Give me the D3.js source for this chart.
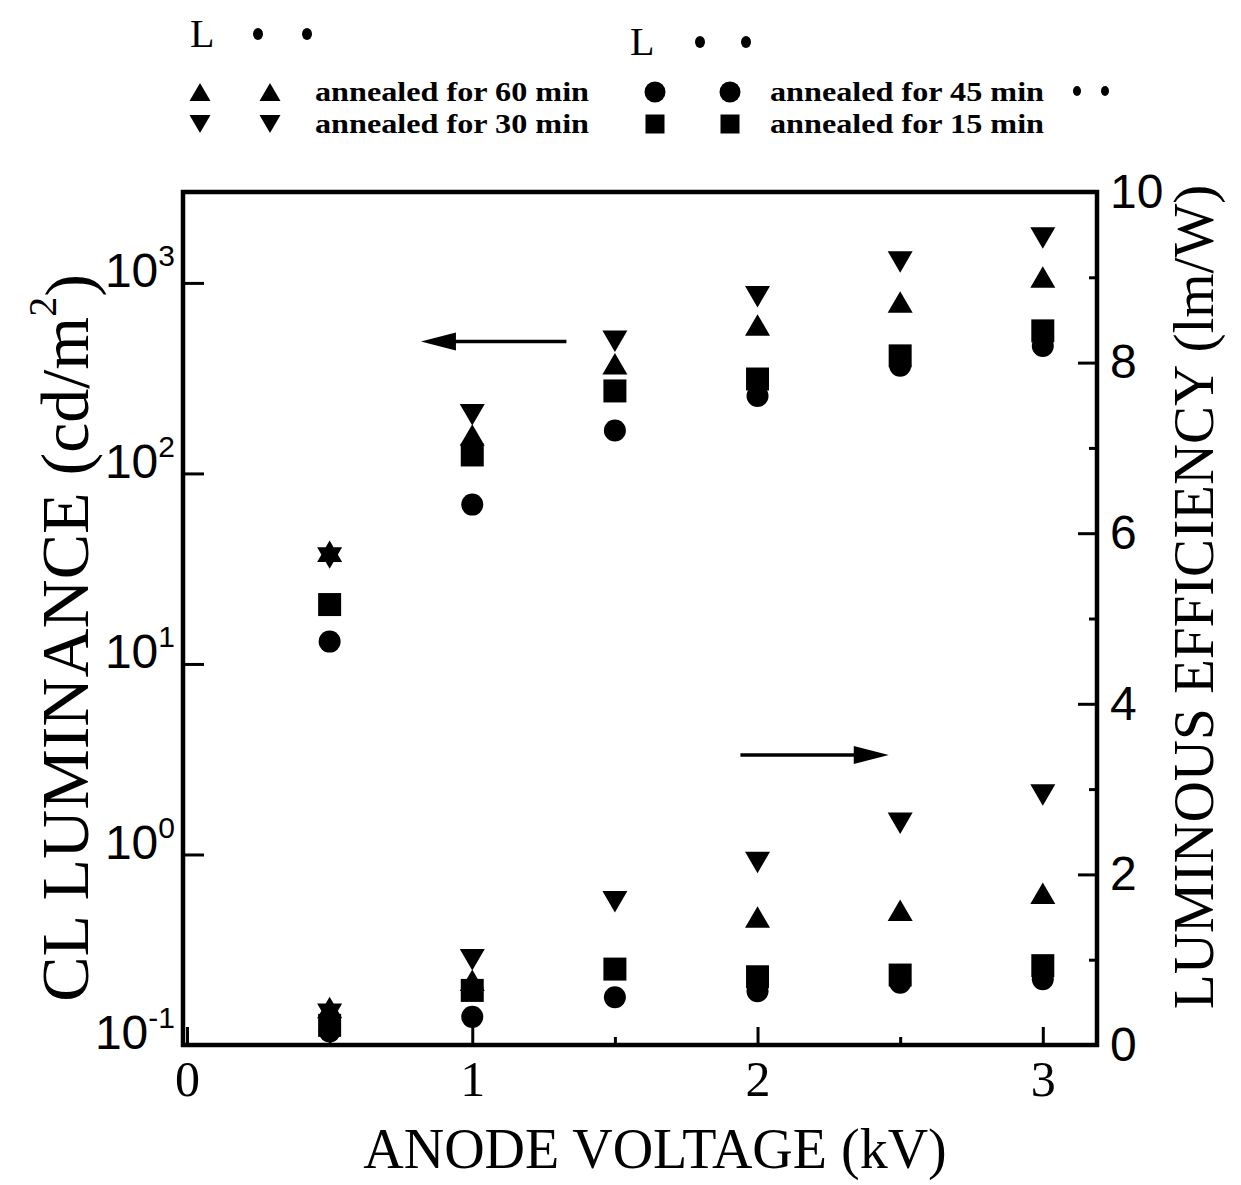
<!DOCTYPE html>
<html>
<head>
<meta charset="utf-8">
<title>CL luminance and luminous efficiency vs anode voltage</title>
<script src="https://d3js.org/d3.v7.min.js"></script>
<style>
  body { margin: 0; background: #fff; }
</style>
</head>
<body>
<div id="chart"></div>
<script>
// anode voltage (kV)
var voltage = [0.5, 1, 1.5, 2, 2.5, 3];

// CL luminance (cd/m2), left log axis
var lum60 = [39, 159, 376, 602, 795, 1075];
var lum30 = [36, 203, 494, 847, 1289, 1722];
var lum45 = [13.1, 68.6, 168, 255, 367, 467];
var lum15 = [20.5, 125, 271, 313, 414, 560];

// luminous efficiency (lm/W), right axis
var eff60 = [0.44, 0.76, null, 1.50, 1.58, 1.78];
var eff30 = [0.36, 1.00, 1.68, 2.14, 2.60, 2.93];
var eff45 = [0.16, 0.33, 0.56, 0.63, 0.73, 0.77];
var eff15 = [0.23, 0.64, 0.89, 0.80, 0.82, 0.93];

var seriesNames = ["annealed for 60 min", "annealed for 30 min", "annealed for 45 min", "annealed for 15 min"];

var xTicks = [0, 1, 2, 3];
var xMinor = [0.5, 1.5, 2.5];
var lumTicks = [0.1, 1, 10, 100, 1000];
var lumExp = ["-1", "0", "1", "2", "3"];
var effMajor = [0, 2, 4, 6, 8, 10];
var effMinor = [1, 3, 5, 7, 9];

// arrows pointing to the axis each group belongs to
var lumArrow = { from: 1.33, to: 0.82, at: 492 };
var effArrow = { from: 1.94, to: 2.46, at: 3.4 };

var serif = "'Liberation Serif', 'Times New Roman', serif";
var sans = "'Liberation Sans', Arial, sans-serif";

var margin = { top: 192, right: 144, bottom: 140, left: 183 };
var width = 1241 - margin.left - margin.right;
var height = 1185 - margin.top - margin.bottom;

var svg = d3.select("#chart").append("svg")
  .attr("width", 1241)
  .attr("height", 1185);

var g = svg.append("g")
  .attr("transform", "translate(" + margin.left + "," + margin.top + ")");

var x = d3.scaleLinear().domain([-0.014, 3.19]).range([0, width]);
var yL = d3.scaleLog().domain([0.1, 3000]).range([height, 0]);
var yR = d3.scaleLinear().domain([0, 10]).range([height, 0]);

// marker shapes, centred on their bounding box, size = width in px
var triUp = { draw: function (ctx, w) { var h = w * 0.86; ctx.moveTo(0, -h / 2); ctx.lineTo(w / 2, h / 2); ctx.lineTo(-w / 2, h / 2); ctx.closePath(); } };
var triDown = { draw: function (ctx, w) { var h = w * 0.86; ctx.moveTo(0, h / 2); ctx.lineTo(w / 2, -h / 2); ctx.lineTo(-w / 2, -h / 2); ctx.closePath(); } };
var square = { draw: function (ctx, w) { ctx.rect(-w / 2, -w / 2, w, w); } };
var circle = { draw: function (ctx, w) { ctx.moveTo(w / 2, 0); ctx.arc(0, 0, w / 2, 0, 2 * Math.PI); } };

var series = [
  { name: seriesNames[0], shape: triUp, size: 25, lum: lum60, eff: eff60 },
  { name: seriesNames[1], shape: triDown, size: 25, lum: lum30, eff: eff30 },
  { name: seriesNames[2], shape: circle, size: 22, lum: lum45, eff: eff45 },
  { name: seriesNames[3], shape: square, size: 23, lum: lum15, eff: eff15 }
];

// bottom axis
g.append("g")
  .attr("class", "x-axis")
  .attr("transform", "translate(0," + height + ")")
  .call(d3.axisBottom(x).tickValues(xTicks).tickSizeInner(-18).tickSizeOuter(0).tickPadding(15).tickFormat(d3.format("d")))
  .call(function (a) {
    a.select(".domain").remove();
    a.selectAll("line").attr("stroke", "#000").attr("stroke-width", 3);
    a.selectAll("text").attr("font-family", serif).attr("font-size", 50).attr("fill", "#000");
  });
g.append("g")
  .attr("transform", "translate(0," + height + ")")
  .call(d3.axisBottom(x).tickValues(xMinor).tickSizeInner(-8).tickSizeOuter(0).tickFormat(""))
  .call(function (a) {
    a.select(".domain").remove();
    a.selectAll("line").attr("stroke", "#000").attr("stroke-width", 3);
  });

// left log axis
g.append("g")
  .attr("class", "y-axis")
  .call(d3.axisLeft(yL).tickValues(lumTicks).tickSizeInner(-21).tickSizeOuter(0).tickFormat(""))
  .call(function (a) {
    a.select(".domain").remove();
    a.selectAll("line").attr("stroke", "#000").attr("stroke-width", 3);
    a.selectAll(".tick text").remove();
    var t = a.selectAll(".tick").append("text")
      .attr("x", -8)
      .attr("dy", "0.36em")
      .attr("text-anchor", "end")
      .attr("font-family", sans)
      .attr("fill", "#000");
    t.append("tspan").attr("font-size", 48).text("10");
    t.append("tspan").attr("font-size", 30).attr("dy", "-0.7em").text(function (d, i) { return lumExp[i]; });
  });

// right linear axis
g.append("g")
  .attr("transform", "translate(" + width + ",0)")
  .call(d3.axisRight(yR).tickValues(effMajor).tickSizeInner(-19).tickSizeOuter(0).tickPadding(13))
  .call(function (a) {
    a.select(".domain").remove();
    a.selectAll("line").attr("stroke", "#000").attr("stroke-width", 3);
    a.selectAll("text").attr("font-family", sans).attr("font-size", 48).attr("fill", "#000");
  });
g.append("g")
  .attr("transform", "translate(" + width + ",0)")
  .call(d3.axisRight(yR).tickValues(effMinor).tickSizeInner(-8).tickSizeOuter(0).tickFormat(""))
  .call(function (a) {
    a.select(".domain").remove();
    a.selectAll("line").attr("stroke", "#000").attr("stroke-width", 3);
  });

// frame
g.append("rect")
  .attr("width", width)
  .attr("height", height)
  .attr("fill", "none")
  .attr("stroke", "#000")
  .attr("stroke-width", 4.5);

// points
series.forEach(function (s) {
  var sym = d3.symbol().type(s.shape).size(s.size);
  var lumPts = voltage.map(function (v, i) { return { v: v, y: s.lum[i] }; }).filter(function (d) { return d.y != null; });
  var effPts = voltage.map(function (v, i) { return { v: v, y: s.eff[i] }; }).filter(function (d) { return d.y != null; });

  g.append("g").selectAll("path")
    .data(lumPts)
    .enter()
    .append("path")
    .attr("d", sym)
    .attr("transform", function (d) { return "translate(" + x(d.v) + "," + yL(d.y) + ")"; })
    .attr("fill", "#000");

  g.append("g").selectAll("path")
    .data(effPts)
    .enter()
    .append("path")
    .attr("d", sym)
    .attr("transform", function (d) { return "translate(" + x(d.v) + "," + yR(d.y) + ")"; })
    .attr("fill", "#000");
});

// arrows
function arrow(x1, x2, yy) {
  var dir = x2 < x1 ? 1 : -1;
  g.append("line")
    .attr("x1", x(x1)).attr("x2", x(x2) + dir * 30)
    .attr("y1", yy).attr("y2", yy)
    .attr("stroke", "#000").attr("stroke-width", 3.5);
  g.append("path")
    .attr("d", "M" + x(x2) + "," + yy + "L" + (x(x2) + dir * 35) + "," + (yy - 9) + "L" + (x(x2) + dir * 35) + "," + (yy + 9) + "Z")
    .attr("fill", "#000");
}
arrow(lumArrow.from, lumArrow.to, yL(lumArrow.at));
arrow(effArrow.from, effArrow.to, yR(effArrow.at));

// axis titles
svg.append("text")
  .attr("x", 655)
  .attr("y", 1168)
  .attr("text-anchor", "middle")
  .attr("font-family", serif)
  .attr("font-size", 56)
  .text("ANODE VOLTAGE (kV)");

var lt = svg.append("text")
  .attr("transform", "translate(88,638) rotate(-90)")
  .attr("text-anchor", "middle")
  .attr("font-family", serif)
  .attr("font-size", 68);
lt.append("tspan").text("CL LUMINANCE (cd/m");
lt.append("tspan").attr("font-size", 40).attr("dy", "-0.8em").text("2");
lt.append("tspan").attr("dy", "0.53em").text(")");

svg.append("text")
  .attr("transform", "translate(1213,597) rotate(-90)")
  .attr("text-anchor", "middle")
  .attr("font-family", serif)
  .attr("font-size", 57)
  .text("LUMINOUS EFFICIENCY (lm/W)");

// legend
var legend = svg.append("g").attr("class", "legend");

[[190, 47, 258, 307, 34], [630, 55, 700, 746, 42]].forEach(function (r) {
  legend.append("text")
    .attr("x", r[0]).attr("y", r[1])
    .attr("font-family", serif).attr("font-size", 40)
    .text("L");
  [r[2], r[3]].forEach(function (cx) {
    legend.append("ellipse").attr("cx", cx).attr("cy", r[4]).attr("rx", 5).attr("ry", 6).attr("fill", "#000");
  });
});
[1077, 1105].forEach(function (cx) {
  legend.append("ellipse").attr("cx", cx).attr("cy", 91).attr("rx", 4).attr("ry", 5).attr("fill", "#000");
});

var legendPos = [
  { m1: 200, m2: 270, tx: 315, y: 92 },
  { m1: 200, m2: 270, tx: 315, y: 124 },
  { m1: 655, m2: 730, tx: 770, y: 92 },
  { m1: 655, m2: 730, tx: 770, y: 124 }
];

var items = legend.selectAll("g.item")
  .data(series)
  .enter()
  .append("g")
  .attr("class", "item");

items.each(function (s, i) {
  var p = legendPos[i];
  var sym = d3.symbol().type(s.shape).size(s.shape === square ? 19 : 21);
  var it = d3.select(this);
  [p.m1, p.m2].forEach(function (mx) {
    it.append("path").attr("d", sym).attr("transform", "translate(" + mx + "," + p.y + ")").attr("fill", "#000");
  });
  it.append("text")
    .attr("x", p.tx).attr("y", p.y + 9)
    .attr("font-family", serif).attr("font-weight", "bold").attr("font-size", 27)
    .attr("textLength", 274).attr("lengthAdjust", "spacingAndGlyphs")
    .text(s.name);
});
</script>
</body>
</html>
